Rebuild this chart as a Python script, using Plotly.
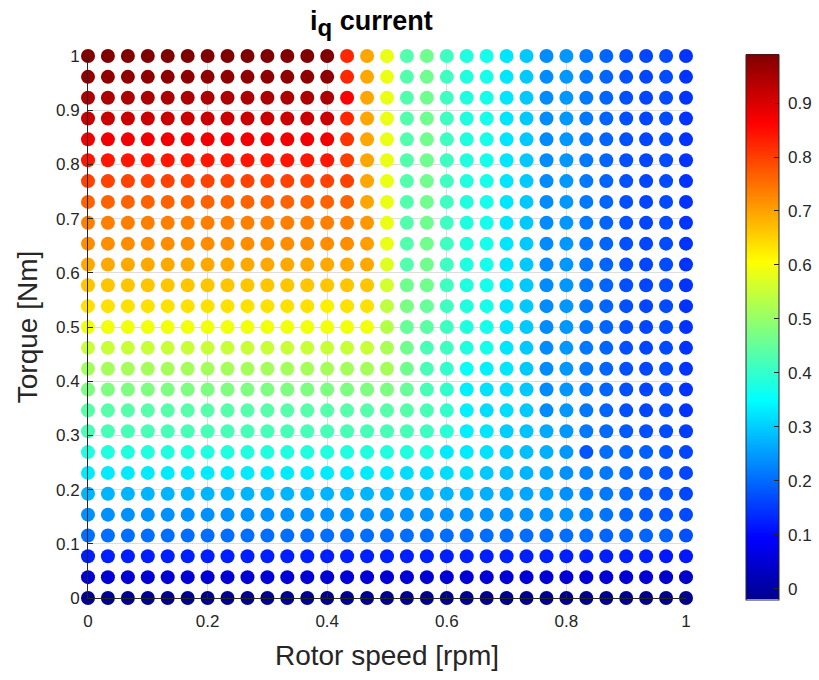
import plotly.graph_objects as go

# Operating grid: rotor speed (columns) and torque (rows, top row = 1.0)
SPEED = [0.0, 0.0333, 0.0667, 0.1, 0.1333, 0.1667, 0.2, 0.2333, 0.2667, 0.3,
         0.3333, 0.3667, 0.4, 0.4333, 0.4667, 0.5, 0.5333, 0.5667, 0.6, 0.6333,
         0.6667, 0.7, 0.7333, 0.7667, 0.8, 0.8333, 0.8667, 0.9, 0.9333, 0.9667, 1.0]
TORQUE = [1.0, 0.9615, 0.9231, 0.8846, 0.8462, 0.8077, 0.7692, 0.7308, 0.6923,
          0.6538, 0.6154, 0.5769, 0.5385, 0.5, 0.4615, 0.4231, 0.3846, 0.3462,
          0.3077, 0.2692, 0.2308, 0.1923, 0.1538, 0.1154, 0.0769, 0.0385, 0.0]

# i_q current at each grid point, one list per torque row (same order as TORQUE)
IQ = [
    [0.99, 0.99, 0.99, 0.99, 0.99, 0.99, 0.99, 0.99, 0.99, 0.99, 0.99, 0.99, 0.99,
     0.824, 0.695, 0.585, 0.431, 0.461, 0.411, 0.38, 0.37,
     0.324, 0.294, 0.233, 0.244, 0.214, 0.194, 0.173, 0.163, 0.168, 0.143],
    [0.975, 0.975, 0.975, 0.975, 0.975, 0.975, 0.975, 0.975, 0.975, 0.975, 0.975, 0.975, 0.975,
     0.824, 0.695, 0.585, 0.431, 0.461, 0.411, 0.38, 0.37,
     0.324, 0.294, 0.233, 0.244, 0.214, 0.194, 0.173, 0.163, 0.168, 0.143],
    [0.945, 0.945, 0.945, 0.945, 0.945, 0.945, 0.945, 0.945, 0.945, 0.945, 0.945, 0.945, 0.945,
     0.864, 0.695, 0.585, 0.431, 0.461, 0.411, 0.38, 0.37,
     0.324, 0.294, 0.233, 0.244, 0.214, 0.194, 0.173, 0.163, 0.168, 0.143],
    [0.915, 0.915, 0.915, 0.915, 0.915, 0.915, 0.915, 0.915, 0.915, 0.915, 0.915, 0.915, 0.915,
     0.824, 0.695, 0.585, 0.431, 0.461, 0.411, 0.38, 0.37,
     0.324, 0.294, 0.233, 0.244, 0.214, 0.194, 0.173, 0.163, 0.168, 0.143],
    [0.875, 0.875, 0.875, 0.875, 0.875, 0.875, 0.875, 0.875, 0.875, 0.875, 0.875, 0.875, 0.875,
     0.81, 0.695, 0.585, 0.431, 0.461, 0.411, 0.38, 0.37,
     0.324, 0.294, 0.233, 0.244, 0.214, 0.194, 0.173, 0.163, 0.168, 0.143],
    [0.84, 0.84, 0.84, 0.84, 0.84, 0.84, 0.84, 0.84, 0.84, 0.84, 0.84, 0.84, 0.84,
     0.80, 0.695, 0.585, 0.431, 0.461, 0.411, 0.38, 0.37,
     0.324, 0.294, 0.233, 0.244, 0.214, 0.194, 0.173, 0.163, 0.168, 0.143],
    [0.795, 0.795, 0.795, 0.795, 0.795, 0.795, 0.795, 0.795, 0.795, 0.795, 0.795, 0.795, 0.795,
     0.795, 0.695, 0.585, 0.431, 0.461, 0.411, 0.38, 0.37,
     0.324, 0.294, 0.233, 0.244, 0.214, 0.194, 0.173, 0.163, 0.168, 0.143],
    [0.763, 0.763, 0.763, 0.763, 0.763, 0.763, 0.763, 0.763, 0.763, 0.763, 0.763, 0.763, 0.763,
     0.763, 0.695, 0.585, 0.431, 0.461, 0.411, 0.38, 0.37,
     0.324, 0.294, 0.233, 0.244, 0.214, 0.194, 0.173, 0.163, 0.168, 0.143],
    [0.733, 0.733, 0.733, 0.733, 0.733, 0.733, 0.733, 0.733, 0.733, 0.733, 0.733, 0.733, 0.733,
     0.733, 0.71, 0.585, 0.431, 0.461, 0.411, 0.38, 0.37,
     0.324, 0.294, 0.233, 0.244, 0.214, 0.194, 0.173, 0.163, 0.168, 0.143],
    [0.72, 0.72, 0.72, 0.72, 0.72, 0.72, 0.72, 0.72, 0.72, 0.72, 0.72, 0.72, 0.72,
     0.72, 0.703, 0.585, 0.431, 0.461, 0.411, 0.38, 0.37,
     0.324, 0.294, 0.233, 0.244, 0.214, 0.194, 0.173, 0.163, 0.168, 0.143],
    [0.693, 0.693, 0.693, 0.693, 0.693, 0.693, 0.693, 0.693, 0.693, 0.693, 0.693, 0.693, 0.693,
     0.693, 0.693, 0.572, 0.431, 0.461, 0.411, 0.38, 0.37,
     0.324, 0.294, 0.233, 0.244, 0.214, 0.194, 0.173, 0.163, 0.168, 0.143],
    [0.663, 0.663, 0.663, 0.663, 0.663, 0.663, 0.663, 0.663, 0.663, 0.663, 0.663, 0.663, 0.663,
     0.663, 0.663, 0.561, 0.461, 0.461, 0.411, 0.38, 0.37,
     0.324, 0.294, 0.233, 0.244, 0.214, 0.194, 0.173, 0.163, 0.168, 0.143],
    [0.635, 0.635, 0.635, 0.635, 0.635, 0.635, 0.635, 0.635, 0.635, 0.635, 0.635, 0.635, 0.62,
     0.635, 0.635, 0.541, 0.471, 0.451, 0.411, 0.38, 0.37,
     0.324, 0.294, 0.233, 0.244, 0.214, 0.194, 0.173, 0.163, 0.168, 0.143],
    [0.592, 0.592, 0.592, 0.592, 0.592, 0.592, 0.592, 0.592, 0.592, 0.592, 0.592, 0.592, 0.592,
     0.592, 0.592, 0.531, 0.451, 0.441, 0.411, 0.38, 0.37,
     0.324, 0.294, 0.233, 0.244, 0.214, 0.194, 0.173, 0.163, 0.168, 0.143],
    [0.55, 0.55, 0.55, 0.55, 0.55, 0.55, 0.55, 0.55, 0.55, 0.55, 0.55, 0.55, 0.55,
     0.55, 0.55, 0.521, 0.461, 0.421, 0.411, 0.38, 0.37,
     0.324, 0.294, 0.233, 0.244, 0.214, 0.194, 0.173, 0.163, 0.168, 0.143],
    [0.515, 0.515, 0.515, 0.515, 0.515, 0.515, 0.515, 0.515, 0.515, 0.515, 0.515, 0.515, 0.515,
     0.515, 0.515, 0.515, 0.461, 0.421, 0.40, 0.355, 0.335,
     0.324, 0.294, 0.233, 0.244, 0.214, 0.194, 0.173, 0.163, 0.168, 0.143],
    [0.475, 0.475, 0.475, 0.475, 0.475, 0.475, 0.475, 0.475, 0.475, 0.475, 0.475, 0.475, 0.475,
     0.475, 0.475, 0.475, 0.451, 0.421, 0.40, 0.334, 0.319,
     0.314, 0.294, 0.233, 0.244, 0.214, 0.194, 0.173, 0.163, 0.168, 0.143],
    [0.435, 0.435, 0.435, 0.435, 0.435, 0.435, 0.435, 0.435, 0.435, 0.435, 0.435, 0.435, 0.435,
     0.435, 0.435, 0.435, 0.435, 0.421, 0.40, 0.334, 0.314,
     0.314, 0.294, 0.233, 0.244, 0.214, 0.194, 0.173, 0.163, 0.168, 0.143],
    [0.421, 0.421, 0.421, 0.421, 0.421, 0.421, 0.421, 0.421, 0.421, 0.421, 0.421, 0.421, 0.421,
     0.421, 0.421, 0.421, 0.421, 0.411, 0.39, 0.334, 0.324,
     0.299, 0.289, 0.264, 0.244, 0.214, 0.199, 0.183, 0.173, 0.168, 0.153],
    [0.38, 0.38, 0.38, 0.38, 0.38, 0.38, 0.38, 0.38, 0.38, 0.38, 0.38, 0.38, 0.38,
     0.38, 0.38, 0.38, 0.38, 0.38, 0.329, 0.329, 0.319,
     0.294, 0.284, 0.269, 0.244, 0.178, 0.204, 0.194, 0.189, 0.178, 0.163],
    [0.329, 0.329, 0.329, 0.329, 0.329, 0.329, 0.329, 0.329, 0.329, 0.329, 0.329, 0.329, 0.329,
     0.329, 0.329, 0.329, 0.314, 0.314, 0.314, 0.314, 0.294,
     0.284, 0.274, 0.259, 0.238, 0.223, 0.214, 0.199, 0.189, 0.178, 0.163],
    [0.274, 0.274, 0.274, 0.274, 0.274, 0.274, 0.274, 0.274, 0.274, 0.274, 0.274, 0.274, 0.274,
     0.274, 0.274, 0.274, 0.274, 0.274, 0.274, 0.274, 0.269,
     0.264, 0.259, 0.254, 0.238, 0.223, 0.214, 0.199, 0.183, 0.178, 0.163],
    [0.238, 0.238, 0.238, 0.238, 0.238, 0.238, 0.238, 0.238, 0.238, 0.238, 0.238, 0.238, 0.238,
     0.238, 0.238, 0.238, 0.238, 0.238, 0.238, 0.238, 0.238,
     0.238, 0.238, 0.238, 0.238, 0.223, 0.209, 0.194, 0.183, 0.178, 0.168],
    [0.204, 0.204, 0.204, 0.204, 0.204, 0.204, 0.204, 0.204, 0.204, 0.204, 0.204, 0.204, 0.204,
     0.204, 0.204, 0.204, 0.204, 0.204, 0.204, 0.204, 0.204,
     0.204, 0.204, 0.204, 0.204, 0.204, 0.194, 0.194, 0.194, 0.19, 0.173],
    [0.123, 0.123, 0.123, 0.123, 0.123, 0.123, 0.123, 0.123, 0.123, 0.123, 0.123, 0.123, 0.123,
     0.123, 0.123, 0.123, 0.123, 0.123, 0.123, 0.123, 0.123,
     0.123, 0.123, 0.123, 0.123, 0.123, 0.123, 0.123, 0.123, 0.115, 0.115],
    [0.05, 0.05, 0.05, 0.05, 0.05, 0.05, 0.05, 0.05, 0.05, 0.05, 0.05, 0.05, 0.05,
     0.05, 0.05, 0.05, 0.05, 0.05, 0.05, 0.05, 0.05,
     0.05, 0.05, 0.05, 0.05, 0.05, 0.05, 0.05, 0.05, 0.04, 0.04],
    [-0.02, -0.02, -0.02, -0.02, -0.02, -0.02, -0.02, -0.02, -0.02, -0.02, -0.02, -0.02, -0.02,
     -0.02, -0.02, -0.02, -0.02, -0.02, -0.02, -0.02, -0.02,
     -0.02, -0.02, -0.02, -0.02, -0.02, -0.02, -0.02, -0.02, -0.02, -0.02],
]

X_TICKS = [0, 0.2, 0.4, 0.6, 0.8, 1]
X_TICK_TEXT = ["0", "0.2", "0.4", "0.6", "0.8", "1"]
Y_TICKS = [0, 0.1, 0.2, 0.3, 0.4, 0.5, 0.6, 0.7, 0.8, 0.9, 1]
Y_TICK_TEXT = ["0", "0.1", "0.2", "0.3", "0.4", "0.5", "0.6", "0.7", "0.8", "0.9", "1"]
CB_TICKS = [0, 0.1, 0.2, 0.3, 0.4, 0.5, 0.6, 0.7, 0.8, 0.9]
CB_TICK_TEXT = ["0", "0.1", "0.2", "0.3", "0.4", "0.5", "0.6", "0.7", "0.8", "0.9"]

assert len(IQ) == len(TORQUE)
assert all(len(row) == len(SPEED) for row in IQ)

# MATLAB-style jet colormap
JET = [
    [0.0, "rgb(0,0,143)"],
    [0.111, "rgb(0,0,255)"],
    [0.365, "rgb(0,255,255)"],
    [0.619, "rgb(255,255,0)"],
    [0.873, "rgb(255,0,0)"],
    [1.0, "rgb(128,0,0)"],
]

xs, ys, cs = [], [], []
for t, row in zip(TORQUE, IQ):
    for s, v in zip(SPEED, row):
        xs.append(s)
        ys.append(t)
        cs.append(v)

INK = "#262626"
GRID = "#dedede"
FONT = "Liberation Sans, Arial, Helvetica, sans-serif"
TICK_SIZE = 17
NBSP = "\u00a0"

fig = go.Figure(
    go.Scatter(
        x=xs, y=ys, mode="markers", cliponaxis=False,
        marker=dict(
            size=14, color=cs, colorscale=JET,
            cmin=min(cs), cmax=max(cs),
            line=dict(width=0),
            colorbar=dict(
                x=(746 - 88) / 598, xanchor="left", xpad=0,
                y=0.5, yanchor="middle", ypad=0,
                thickness=33, thicknessmode="pixels",
                len=545, lenmode="pixels",
                outlinecolor=INK, outlinewidth=1,
                ticks="inside", ticklen=5, tickcolor=INK,
                tickvals=CB_TICKS,
                ticktext=[NBSP + t for t in CB_TICK_TEXT],
                tickfont=dict(size=TICK_SIZE, color=INK, family=FONT),
            ),
        ),
        hoverinfo="skip",
    )
)

axis_common = dict(
    showline=True, linecolor=INK, linewidth=1, mirror=False,
    ticks="inside", ticklen=5, tickcolor=INK,
    showgrid=True, gridcolor=GRID, gridwidth=1, zeroline=False,
    tickfont=dict(size=TICK_SIZE, color=INK, family=FONT),
    layer="above traces",
)

fig.update_layout(
    width=819, height=680,
    margin=dict(l=88, r=133, t=56, b=82, autoexpand=False),
    plot_bgcolor="white", paper_bgcolor="white",
    font=dict(family=FONT, color=INK),
    showlegend=False,
    title=dict(
        text="<b>i<sub><span style='font-size:24px'>q</span></sub> current</b>",
        x=388 / 819, xanchor="center", xref="paper",
        y=1 - 21 / 680, yanchor="middle", yref="container",
        font=dict(size=27, color="#000000", family=FONT),
    ),
    xaxis=dict(
        range=[0, 1], tickvals=X_TICKS, ticktext=X_TICK_TEXT,
        ticklabelstandoff=8,
        title=dict(text="Rotor speed [rpm]", font=dict(size=28, color=INK), standoff=14),
        **axis_common,
    ),
    yaxis=dict(
        range=[0, 1], tickvals=Y_TICKS, ticktext=Y_TICK_TEXT,
        ticklabelstandoff=4,
        title=dict(text="Torque [Nm]", font=dict(size=28, color=INK), standoff=10),
        **axis_common,
    ),
)

fig.write_html("out.html")
